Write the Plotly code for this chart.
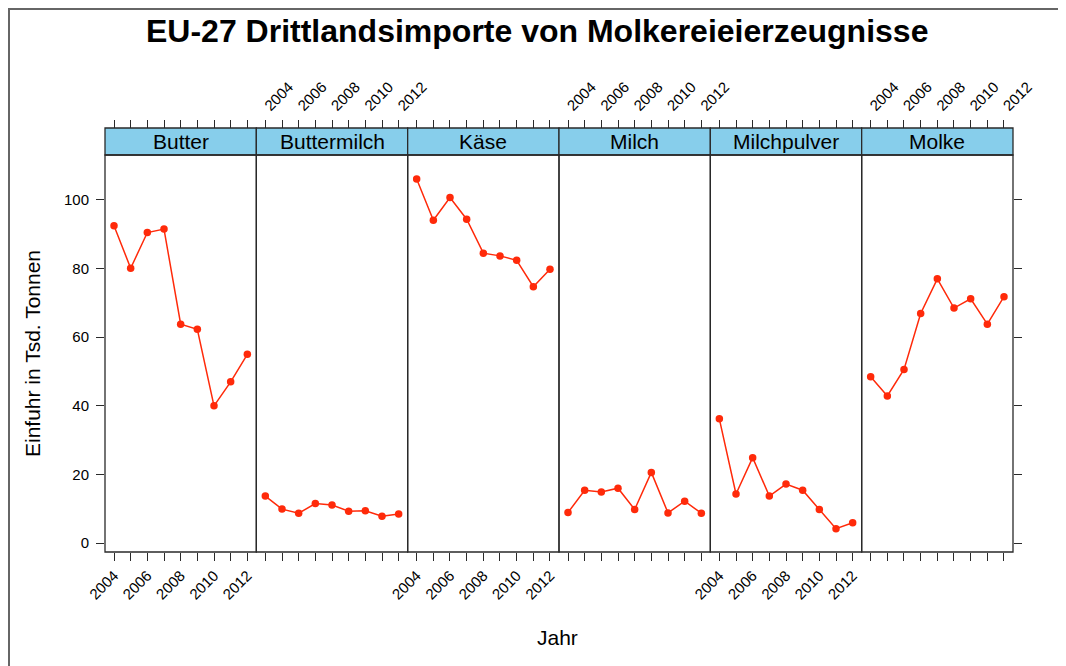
import plotly.graph_objects as go

YEARS = [2004, 2005, 2006, 2007, 2008, 2009, 2010, 2011, 2012]
TICK_LABELS = ["2004", "", "2006", "", "2008", "", "2010", "", "2012"]
CATEGORIES = ["Butter", "Buttermilch", "Käse", "Milch", "Milchpulver", "Molke"]

butter = [92.5, 80.1, 90.5, 91.5, 63.8, 62.3, 40.0, 47.0, 55.0]
buttermilch = [13.7, 9.9, 8.7, 11.5, 11.1, 9.3, 9.4, 7.8, 8.5]
kaese = [106.1, 94.1, 100.7, 94.4, 84.5, 83.7, 82.4, 74.7, 79.8]
milch = [8.9, 15.4, 14.9, 16.0, 9.8, 20.6, 8.8, 12.2, 8.7]
milchpulver = [36.2, 14.3, 24.9, 13.7, 17.2, 15.4, 9.8, 4.2, 5.9]
molke = [48.5, 42.9, 50.6, 66.9, 77.0, 68.5, 71.2, 63.8, 71.8]
SERIES = [butter, buttermilch, kaese, milch, milchpulver, molke]

Y_TICKS = [0, 20, 40, 60, 80, 100]

# page offset of the figure (default body margin)
OFF = 8
W, H = 1066, 666
# target page coordinates
P_LEFT, P_RIGHT, P_STRIP_TOP, P_PANEL_TOP, P_BOTTOM = 105, 1013, 128, 155, 552
ML = P_LEFT - OFF
MR = W - (P_RIGHT - OFF)
MT = P_STRIP_TOP - OFF
MB = H - (P_BOTTOM - OFF)
PW = W - ML - MR
PH = H - MT - MB


def px(p):
    return (p - OFF - ML) / PW


def py(p):
    return (H - MB - (p - OFF)) / PH


ydom_top = py(P_PANEL_TOP)

FONT = "Liberation Sans, Arial, Helvetica, sans-serif"
RED = "#FF2A0A"
LINE = "#2a2a2a"
TICKFONT = dict(family=FONT, size=15, color="#000")

fig = go.Figure()
n = len(CATEGORIES)
layout = {}
for i, (cat, vals) in enumerate(zip(CATEGORIES, SERIES)):
    ax = "" if i == 0 else str(i + 1)
    fig.add_trace(go.Scatter(
        x=YEARS, y=vals, mode="lines+markers", xaxis="x" + ax, yaxis="y",
        line=dict(color=RED, width=1.5), marker=dict(color=RED, size=7.5),
        showlegend=False, name=cat))
    d0, d1 = i / n, (i + 1) / n
    common = dict(range=[2003.46, 2012.54], domain=[d0, d1], tickvals=YEARS,
                  ticktext=TICK_LABELS, ticks="outside", ticklen=8,
                  tickcolor=LINE, tickwidth=1.3, tickangle=-45, showgrid=False,
                  zeroline=False, tickfont=TICKFONT, fixedrange=True)
    layout["xaxis" + ax] = dict(common, anchor="y", side="bottom",
                                showticklabels=(i % 2 == 0))
    top_ax = str(n + i + 1)
    layout["xaxis" + top_ax] = dict(common, anchor="free", position=1,
                                    side="top", overlaying="x" + ax,
                                    showticklabels=(i % 2 == 1))
    fig.add_trace(go.Scatter(x=[YEARS[0]], y=[None], xaxis="x" + top_ax,
                             yaxis="y", showlegend=False, hoverinfo="skip"))

layout["yaxis"] = dict(range=[-2.6, 113.1], domain=[0, ydom_top], anchor="x",
                       side="left", tickvals=Y_TICKS, ticks="outside", ticklen=8,
                       tickcolor=LINE, tickwidth=1.3, showgrid=False,
                       zeroline=False, tickfont=TICKFONT, fixedrange=True,
                       ticklabelstandoff=4)
layout["yaxis2"] = dict(range=[-2.6, 113.1], domain=[0, ydom_top], anchor="x6",
                        overlaying="y", side="right", tickvals=Y_TICKS,
                        ticks="outside", ticklen=8, tickcolor=LINE,
                        tickwidth=1.3, showticklabels=False, showgrid=False,
                        zeroline=False, fixedrange=True)
fig.add_trace(go.Scatter(x=[YEARS[0]], y=[None], xaxis="x6", yaxis="y2",
                         showlegend=False, hoverinfo="skip"))

shapes = []
annotations = []
for i, cat in enumerate(CATEGORIES):
    d0, d1 = i / n, (i + 1) / n
    shapes.append(dict(type="rect", xref="paper", yref="paper", x0=d0, x1=d1,
                       y0=ydom_top, y1=1, fillcolor="#87CEEB",
                       line=dict(color=LINE, width=1.3), layer="above"))
    shapes.append(dict(type="rect", xref="paper", yref="paper", x0=d0, x1=d1,
                       y0=0, y1=ydom_top, line=dict(color=LINE, width=1.3),
                       layer="above"))
    annotations.append(dict(text=cat, xref="paper", yref="paper",
                            x=(d0 + d1) / 2, y=(1 + ydom_top) / 2,
                            showarrow=False, xanchor="center", yanchor="middle",
                            font=dict(family=FONT, size=21, color="#000")))

# outer frame (as close to page edge as the figure allows)
shapes.append(dict(type="rect", xref="paper", yref="paper",
                   x0=px(9), x1=px(1060), y0=py(700), y1=py(9),
                   line=dict(color="#666666", width=2), layer="below"))

annotations.append(dict(text="<b>EU-27 Drittlandsimporte von Molkereieierzeugnisse</b>",
                        xref="paper", yref="paper", x=px(537), y=py(31),
                        showarrow=False, xanchor="center", yanchor="middle",
                        font=dict(family=FONT, size=32, color="#000")))
annotations.append(dict(text="Einfuhr in Tsd. Tonnen", xref="paper", yref="paper",
                        x=px(32), y=py(354), textangle=-90,
                        showarrow=False, xanchor="center", yanchor="middle",
                        font=dict(family=FONT, size=21, color="#000")))
annotations.append(dict(text="Jahr", xref="paper", yref="paper",
                        x=px(557), y=py(637),
                        showarrow=False, xanchor="center", yanchor="middle",
                        font=dict(family=FONT, size=21, color="#000")))

fig.update_layout(**layout)
fig.update_layout(width=W, height=H, margin=dict(l=ML, r=MR, t=MT, b=MB),
                  paper_bgcolor="white", plot_bgcolor="rgba(0,0,0,0)",
                  shapes=shapes, annotations=annotations, showlegend=False)
fig.write_html("out.html")
